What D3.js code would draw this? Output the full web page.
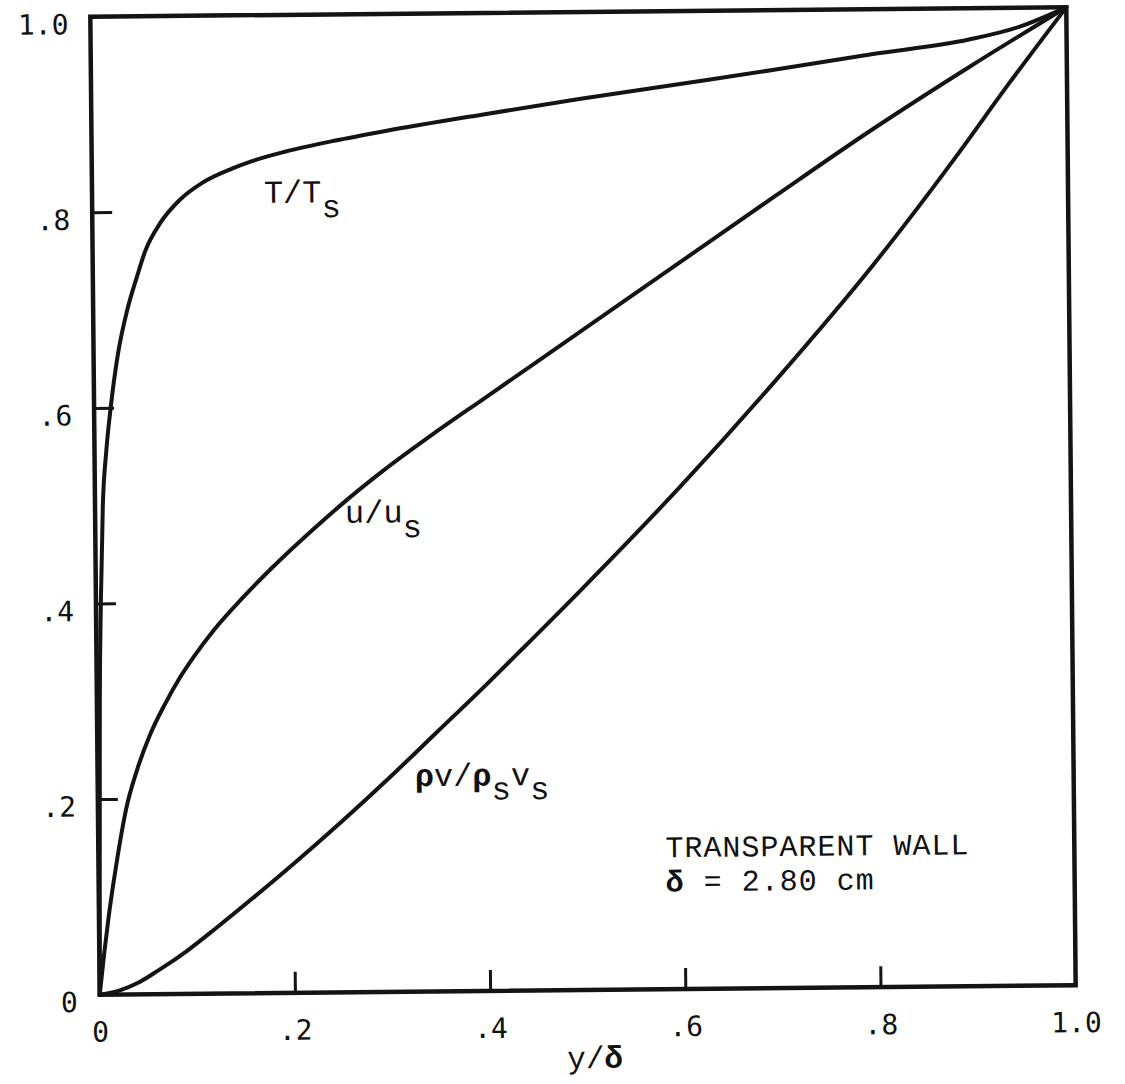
<!DOCTYPE html>
<html>
<head>
<meta charset="utf-8">
<script src="https://cdn.jsdelivr.net/npm/d3@7"></script>
<style>
  html, body { margin: 0; padding: 0; background: #fff; }
  svg { display: block; }
  .tick-label { font-family: "DejaVu Sans Mono", monospace; font-size: 28px; fill: #111; }
  .curve-label { font-family: "Liberation Mono", "Courier New", monospace; font-size: 32px; fill: #111; }
  .note { font-family: "Liberation Mono", "Courier New", monospace; font-size: 30px; letter-spacing: 1px; fill: #111; }
</style>
</head>
<body>
<svg id="chart" width="1125" height="1084"></svg>
<script>
// Boundary-layer profiles vs normalized distance y/δ

// T/Ts (temperature ratio)
const xT = [0, 0.001, 0.002, 0.003, 0.005, 0.008, 0.012, 0.017, 0.025, 0.035, 0.045, 0.054, 0.07, 0.09,
            0.113, 0.143, 0.165, 0.198, 0.25, 0.3, 0.4, 0.5, 0.6, 0.7, 0.8, 0.9, 0.95, 1.0];
const tempRatio = [0, 0.1, 0.2, 0.3, 0.4, 0.5, 0.555, 0.6, 0.655, 0.7, 0.733, 0.76, 0.789, 0.812,
                   0.829, 0.843, 0.851, 0.86, 0.871, 0.88, 0.896, 0.911, 0.925, 0.939, 0.954, 0.968, 0.98, 1.0];

// u/us (velocity ratio)
const xU = [0, 0.005, 0.01, 0.015, 0.02, 0.029, 0.04, 0.054, 0.07, 0.085, 0.1, 0.12, 0.15, 0.18,
            0.226, 0.26, 0.293, 0.35, 0.4, 0.5, 0.6, 0.7, 0.8, 0.9, 1.0];
const velRatio = [0, 0.042, 0.08, 0.113, 0.143, 0.19, 0.228, 0.265, 0.297, 0.323, 0.345, 0.371, 0.404, 0.434,
                  0.476, 0.505, 0.531, 0.572, 0.606, 0.674, 0.742, 0.81, 0.877, 0.94, 1.0];

// ρv/ρs vs (mass flux ratio)
const xM = [0, 0.02, 0.04, 0.06, 0.09, 0.12, 0.16, 0.2, 0.25, 0.3, 0.349, 0.4, 0.436, 0.5, 0.6, 0.7,
            0.8, 0.886, 0.94, 1.0];
const massRatio = [0, 0.004, 0.012, 0.024, 0.044, 0.067, 0.099, 0.132, 0.175, 0.22, 0.266, 0.314, 0.349,
                   0.412, 0.514, 0.623, 0.739, 0.849, 0.922, 1.0];

// Tick values (both axes)
const tickValues = [0, 0.2, 0.4, 0.6, 0.8, 1.0];
const innerTicks = [0.2, 0.4, 0.6, 0.8];
const tickText = d => d === 0 ? "0" : d === 1 ? "1.0" : d3.format(".1f")(d).replace(/^0/, "");

const svg = d3.select("#chart");
const plotLeft = 95, plotRight = 1071, plotTop = 12, plotBottom = 990;
const x = d3.scaleLinear().domain([0, 1]).range([plotLeft, plotRight]);
const y = d3.scaleLinear().domain([0, 1]).range([plotBottom, plotTop]);

const ink = "#141414";

// The whole sheet sits slightly rotated
const g = svg.append("g")
  .attr("transform", `rotate(-0.55, ${(plotLeft + plotRight) / 2}, ${(plotTop + plotBottom) / 2})`);

// Frame
g.append("rect")
  .attr("x", x(0)).attr("y", y(1))
  .attr("width", x(1) - x(0)).attr("height", y(0) - y(1))
  .attr("fill", "none").attr("stroke", ink).attr("stroke-width", 4.5);

// Inward tick marks
g.append("g").attr("transform", `translate(${x(0)},0)`)
  .call(d3.axisLeft(y).tickValues(innerTicks).tickSize(-20).tickFormat(""))
  .call(a => a.select(".domain").remove())
  .call(a => a.selectAll("line").attr("stroke", ink).attr("stroke-width", 3));
g.append("g").attr("transform", `translate(0,${y(0)})`)
  .call(d3.axisBottom(x).tickValues(innerTicks).tickSize(-21).tickFormat(""))
  .call(a => a.select(".domain").remove())
  .call(a => a.selectAll("line").attr("stroke", ink).attr("stroke-width", 3));

// Tick labels
g.append("g").attr("transform", `translate(${x(0)},0)`)
  .call(d3.axisLeft(y).tickValues(tickValues).tickSize(0).tickPadding(22).tickFormat(tickText))
  .call(a => a.select(".domain").remove())
  .call(a => a.attr("font-family", null).attr("font-size", null))
  .call(a => a.selectAll("text").attr("class", "tick-label").attr("dy", "0.6em").attr("fill", null));
g.append("g").attr("transform", `translate(0,${y(0)})`)
  .call(d3.axisBottom(x).tickValues(tickValues).tickSize(0).tickPadding(0).tickFormat(tickText))
  .call(a => a.select(".domain").remove())
  .call(a => a.attr("font-family", null).attr("font-size", null))
  .call(a => a.selectAll("text").attr("class", "tick-label").attr("y", 47).attr("dy", null).attr("fill", null));

// Curves
const line = d3.line().x(d => x(d[0])).y(d => y(d[1])).curve(d3.curveMonotoneX);
const series = [
  d3.zip(xT, tempRatio),
  d3.zip(xU, velRatio),
  d3.zip(xM, massRatio)
];
g.selectAll("path.curve").data(series).join("path")
  .attr("class", "curve")
  .attr("d", line)
  .attr("fill", "none").attr("stroke", ink)
  .attr("stroke-width", 4).attr("stroke-linecap", "round").attr("stroke-linejoin", "round");

// Curve labels
const lab = g.append("g").attr("class", "labels");

const tLab = lab.append("text").attr("class", "curve-label")
  .attr("x", x(0.176)).attr("y", y(0.808));
tLab.append("tspan").text("T/T");
tLab.append("tspan").attr("dy", 15).text("s");

const uLab = lab.append("text").attr("class", "curve-label")
  .attr("x", x(0.256)).attr("y", y(0.48));
uLab.append("tspan").text("u/u");
uLab.append("tspan").attr("dy", 15).text("s");

const mLab = lab.append("text").attr("class", "curve-label")
  .attr("x", x(0.325)).attr("y", y(0.21));
mLab.append("tspan").attr("font-weight", "bold").text("ρ");
mLab.append("tspan").text("v/");
mLab.append("tspan").attr("font-weight", "bold").text("ρ");
mLab.append("tspan").attr("dy", 14).text("s");
mLab.append("tspan").attr("dy", -14).text("v");
mLab.append("tspan").attr("dy", 14).text("s");

// Annotation
lab.append("text").attr("class", "note")
  .attr("x", x(0.581)).attr("y", y(0.135))
  .text("TRANSPARENT WALL");
const dLab = lab.append("text").attr("class", "note")
  .attr("x", x(0.581)).attr("y", y(0.1));
dLab.append("tspan").attr("font-weight", "bold").text("δ");
dLab.append("tspan").text(" = 2.80 cm");

// Axis title
const xt = lab.append("text").attr("class", "curve-label")
  .attr("x", x(0.507)).attr("y", y(0) + 78)
  .attr("text-anchor", "middle").style("font-size", "31px");
xt.append("tspan").text("y/");
xt.append("tspan").attr("font-weight", "bold").text("δ");
</script>
</body>
</html>
